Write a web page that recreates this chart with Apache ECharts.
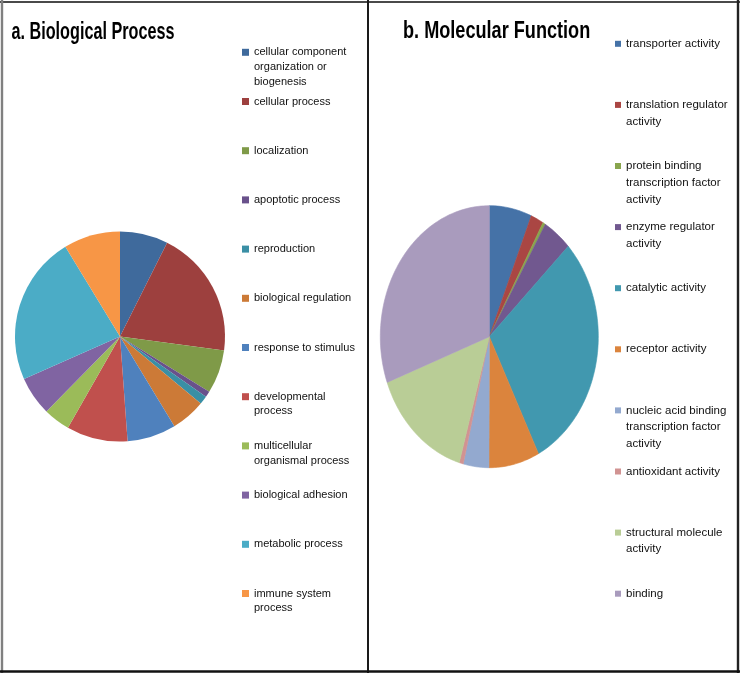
<!DOCTYPE html>
<html><head><meta charset="utf-8">
<script src="https://cdn.jsdelivr.net/npm/echarts@6/dist/echarts.min.js"></script>
<style>html,body{margin:0;padding:0;background:#fff}#c{width:740px;height:674px}</style>
</head><body><div id="c"></div>
<script>
// ---- Data ----
const bpNames = ['cellular component organization or biogenesis','cellular process','localization','apoptotic process','reproduction','biological regulation','response to stimulus','developmental process','multicellular organismal process','biological adhesion','metabolic process','immune system process'];
const bpValues = [7.4, 19.7, 6.7, 0.9, 1.3, 5.3, 7.5, 9.4, 4.1, 6.0, 22.9, 8.7];
const bpLabels = ['cellular component\norganization or\nbiogenesis','cellular process','localization','apoptotic process','reproduction','biological regulation','response to stimulus','developmental\nprocess','multicellular\norganismal process','biological adhesion','metabolic process','immune system\nprocess'];

const mfNames = ['transporter activity','translation regulator activity','protein binding transcription factor activity','enzyme regulator activity','catalytic activity','receptor activity','nucleic acid binding transcription factor activity','antioxidant activity','structural molecule activity','binding'];
const mfValues = [6.3, 1.9, 0.4, 4.3, 29.7, 7.5, 3.8, 0.6, 14.9, 30.7];
const mfLabels = ['transporter activity','translation regulator\nactivity','protein binding\ntranscription factor\nactivity','enzyme regulator\nactivity','catalytic activity','receptor activity','nucleic acid binding\ntranscription factor\nactivity','antioxidant activity','structural molecule\nactivity','binding'];

const titles = ['a. Biological Process', 'b. Molecular Function'];

// ---- Styles ----
const bpColors = ['#3F6A9C','#9D403E','#7F9A48','#69518B','#3A8FA5','#CC7A37','#4F81BD','#C0504D','#9BBB59','#8064A2','#4BACC6','#F79646'];
const mfColors = ['#4572A7','#AA4643','#89A54E','#71588F','#4198AF','#DB843D','#93A9CF','#D19392','#B9CD96','#A99BBD'];
const textFont = "'Liberation Sans', Arial, sans-serif";

const chart = echarts.init(document.getElementById('c'), null, {renderer: 'canvas'});

function itemLegend(name, label, left, centerY, lh, fs, iw, ih) {
  const n = label.split('\n').length;
  const text = '\n'.repeat(n - 1) + label;
  const h = (2 * n - 1) * lh;
  return {
    show: true, data: [name], left: left, top: centerY - h / 2, orient: 'vertical',
    padding: 0, itemWidth: iw, itemHeight: ih, icon: 'rect', itemGap: 0, selectedMode: false,
    itemStyle: {borderWidth: 0},
    formatter: function () { return text; },
    textStyle: {fontFamily: textFont, fontSize: fs, lineHeight: lh, color: '#111'}
  };
}

const legends = [];
bpNames.forEach((nm, i) => legends.push(itemLegend(nm, bpLabels[i], 242, 52.3 + 49.2 * i, 14.7, 11, 7, 7)));
mfNames.forEach((nm, i) => legends.push(itemLegend(nm, mfLabels[i], 615, 43.8 + 61.1 * i, 16.7, 11.5, 6, 6)));

// cumulative fractions for the molecular function pie (drawn as an ellipse on a value grid)
const mfTotal = mfValues.reduce((a, b) => a + b, 0);
const mfCum = [];
let acc = 0;
mfValues.forEach(v => { mfCum.push([acc / mfTotal, (acc + v) / mfTotal]); acc += v; });

const mfSeries = mfNames.map((nm, i) => ({
  type: 'custom', name: nm, coordinateSystem: 'cartesian2d', xAxisIndex: 0, yAxisIndex: 0,
  itemStyle: {color: mfColors[i]}, silent: true, animation: false,
  data: [mfCum[i]],
  renderItem: function (params, api) {
    const s = api.value(0), e = api.value(1);
    const steps = Math.max(2, Math.ceil((e - s) * 240));
    const pts = [api.coord([0, 0])];
    for (let k = 0; k <= steps; k++) {
      const t = 2 * Math.PI * (s + (e - s) * k / steps);
      pts.push(api.coord([Math.sin(t), Math.cos(t)]));
    }
    const c = api.visual('color');
    return {type: 'polygon', shape: {points: pts}, style: {fill: c, stroke: c, lineWidth: 0.6}};
  }
}));

function titleText(txt, x, y, sx) {
  return {type: 'text', x: x, y: y, scaleX: sx, silent: true, z: 10,
    style: {text: txt, fontFamily: textFont, fontWeight: 'bold', fontSize: 24, fill: '#000', align: 'left', verticalAlign: 'middle'}};
}

const option = {
  backgroundColor: '#ffffff',
  animation: false,
  legend: legends,
  grid: {left: 380.3, top: 205.7, width: 218, height: 262, show: false},
  xAxis: {type: 'value', min: -1, max: 1, show: false},
  yAxis: {type: 'value', min: -1, max: 1, show: false},
  graphic: [
    titleText(titles[0], 11.5, 32.4, 0.675),
    titleText(titles[1], 403, 31.8, 0.755),
    {type: 'line', shape: {x1: 0, y1: 2, x2: 740, y2: 2}, style: {stroke: '#4a4a4a', lineWidth: 2}, silent: true},
    {type: 'line', shape: {x1: 2, y1: 0, x2: 2, y2: 673}, style: {stroke: '#808080', lineWidth: 2.4}, silent: true},
    {type: 'line', shape: {x1: 368, y1: 0, x2: 368, y2: 673}, style: {stroke: '#1a1a1a', lineWidth: 2}, silent: true},
    {type: 'line', shape: {x1: 738, y1: 0, x2: 738, y2: 673}, style: {stroke: '#222', lineWidth: 2.4}, silent: true},
    {type: 'line', shape: {x1: 0, y1: 671.5, x2: 740, y2: 671.5}, style: {stroke: '#111', lineWidth: 2.6}, silent: true}
  ],
  series: [
    {
      type: 'pie', name: 'Biological Process', center: [120, 336.5], radius: 105,
      startAngle: 90, clockwise: true, silent: true, animation: false,
      label: {show: false}, labelLine: {show: false},
      itemStyle: {borderWidth: 0},
      emphasis: {disabled: true},
      data: bpNames.map((nm, i) => ({name: nm, value: bpValues[i], itemStyle: {color: bpColors[i]}}))
    }
  ].concat(mfSeries)
};
chart.setOption(option);
</script>
</body></html>
